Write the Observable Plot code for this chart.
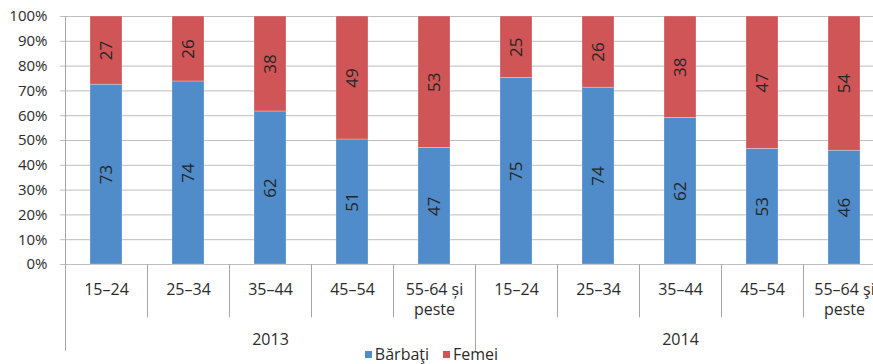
<!DOCTYPE html>
<html>
<head>
<meta charset="utf-8">
<script src="https://cdn.jsdelivr.net/npm/d3@7"></script>
<script src="https://cdn.jsdelivr.net/npm/@observablehq/plot@0.6"></script>
<style>
  html, body { margin: 0; padding: 0; background: white; overflow: hidden; }
  #legend { display: flex; justify-content: center; gap: 14px; font-family: "Open Sans", sans-serif; font-size: 16px; color: #2b2b2b; height: 19px; line-height: 19px; padding-right: 10px; }
  #legend span.sw { display: inline-block; width: 7px; height: 7px; margin-right: 3px; vertical-align: middle; position: relative; top: -1px; }
</style>
</head>
<body>
<div id="chart"></div>
<div id="legend"></div>
<script>
const years = ["2013", "2014"];
const ageGroups2013 = ["15–24", "25–34", "35–44", "45–54", "55-64 și\npeste"];
const ageGroups2014 = ["15–24", "25–34", "35–44", "45–54", "55–64 şi\npeste"];
const series = ["Bărbaţi", "Femei"];
const colors = ["#4F8CC9", "#CF5557"];
// bar heights (percent) as drawn
const barbatiShare = [72.5, 73.8, 61.7, 50.4, 47.0, 75.2, 71.3, 59.1, 46.6, 45.9];
const femeiShare = [27.5, 26.2, 38.3, 49.6, 53.0, 24.8, 28.7, 40.9, 53.4, 54.1];
// printed data labels
const barbatiLabels = ["73", "74", "62", "51", "47", "75", "74", "62", "53", "46"];
const femeiLabels = ["27", "26", "38", "49", "53", "25", "26", "38", "47", "54"];
const yTicks = [0, 10, 20, 30, 40, 50, 60, 70, 80, 90, 100];

const cats = [];
years.forEach((yr, i) => {
  const groups = i === 0 ? ageGroups2013 : ageGroups2014;
  groups.forEach(g => cats.push({key: yr + "|" + g, year: yr, label: g}));
});
const keys = cats.map(c => c.key);

const rows = [];
cats.forEach((c, i) => {
  rows.push({key: c.key, sex: series[0], value: barbatiShare[i], label: barbatiLabels[i]});
  rows.push({key: c.key, sex: series[1], value: femeiShare[i], label: femeiLabels[i]});
});

const yearFirst = years.map(yr => cats.find(c => c.year === yr).key);
const yearMid = years.map(yr => ({key: cats.filter(c => c.year === yr)[2].key, year: yr}));

const gridColor = "#BDBDBD";
const axisColor = "#A6A6A6";
const textColor = "#2b2b2b";

const chart = Plot.plot({
  width: 873,
  height: 345,
  marginLeft: 65,
  marginRight: 0,
  marginTop: 16,
  marginBottom: 81,
  style: {fontFamily: "Open Sans, sans-serif", fontSize: "15px", color: textColor, background: "white", overflow: "visible"},
  x: {domain: keys, range: [65, 885], paddingInner: 0.61, paddingOuter: 0.305, axis: null},
  y: {domain: [0, 100], ticks: yTicks, tickFormat: d => d + "%", tickSize: 0, tickPadding: 18, label: null},
  color: {domain: series, range: colors},
  marks: [
    Plot.ruleY(yTicks, {y: d => d, stroke: gridColor, strokeWidth: 1, insetLeft: -5}),
    Plot.barY(rows, {x: "key", y: "value", fill: "sex", stroke: "white", strokeOpacity: 0.35, strokeWidth: 0.8}),
    Plot.text(rows, Plot.stackY({x: "key", y: "value", text: "label", rotate: -90, fontSize: 17, fill: "#262626"})),
    // category separators
    Plot.ruleX(keys, {x: d => d, dx: -41, y1: 0, y2: -21.5, stroke: axisColor}),
    // left axis line / year separators
    Plot.ruleX(yearFirst, {x: d => d, dx: -41, y1: (d, i) => i === 0 ? 100 : 0, y2: -35, stroke: axisColor}),
    Plot.text(cats, {x: "key", y: 0, text: "label", dy: 16, lineAnchor: "top", lineHeight: 1.25, fontSize: 16, fill: textColor}),
    Plot.text(yearMid, {x: "key", y: 0, text: "year", dy: 69, lineAnchor: "top", fontSize: 16, fill: textColor})
  ]
});
document.getElementById("chart").appendChild(chart);

const legend = document.getElementById("legend");
series.forEach((s, i) => {
  const item = document.createElement("div");
  const sw = document.createElement("span");
  sw.className = "sw";
  sw.style.background = colors[i];
  item.appendChild(sw);
  item.appendChild(document.createTextNode(s));
  legend.appendChild(item);
});
</script>
</body>
</html>
